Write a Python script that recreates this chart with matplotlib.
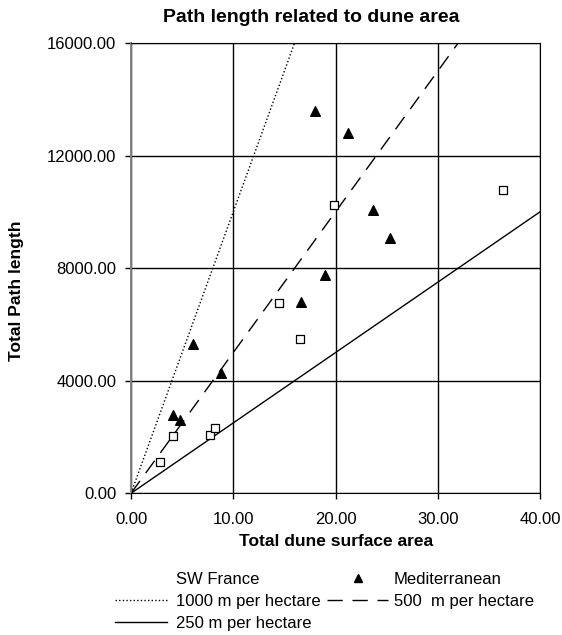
import matplotlib
matplotlib.use('Agg')
import matplotlib.pyplot as plt
from matplotlib.lines import Line2D
import numpy as np

plt.rcParams['font.family'] = ['Liberation Sans', 'DejaVu Sans']

# SW France (open squares)
sw_area = [2.84, 4.08, 7.68, 8.24, 14.5, 16.57, 19.9, 36.37]
sw_path = [1128, 2046, 2081, 2320, 6747, 5498, 10232, 10767]

# Mediterranean (filled triangles)
med_area = [4.15, 4.8, 6.05, 8.79, 16.6, 18.95, 18.04, 21.27, 23.7, 25.3]
med_path = [2795, 2617, 5294, 4284, 6783, 7768, 13588, 12802, 10053, 9079]

# reference lines, metres per hectare
rates = [1000, 500, 250]
rate_labels = ['1000 m per hectare', '500  m per hectare', '250 m per hectare']
rate_styles = [(0, (1, 1.6)), (0, (11, 7)), '-']

xticks = [0, 10, 20, 30, 40]
yticks = [0, 4000, 8000, 12000, 16000]

W, H = 562, 635
fig = plt.figure(figsize=(W / 100, H / 100), dpi=100)
ax = fig.add_axes([131 / W, 1 - 493.3 / H, 409 / W, 450.3 / H])

xs = np.array([0, 40])
lines = []
for r, lab, ls in zip(rates, rate_labels, rate_styles):
    l, = ax.plot(xs, r * xs, color='black', linestyle=ls, linewidth=1.0, label=lab, zorder=2)
    lines.append(l)

ax.scatter(sw_area, sw_path, marker='s', s=32, facecolor='white', edgecolor='black',
           linewidth=0.9, zorder=3)
ax.scatter(med_area, med_path, marker='^', s=48, color='black', zorder=3)

ax.set_xlim(0, 40)
ax.set_ylim(0, 16000)
ax.set_xticks(xticks)
ax.set_yticks(yticks)
ax.set_xticklabels(['%.2f' % v for v in xticks])
ax.set_yticklabels(['%.2f' % v for v in yticks])
ax.tick_params(labelsize=12, length=4, width=1, color='black')
ax.tick_params(axis='x', pad=9.5)
ax.tick_params(axis='y', pad=6.5)
ax.grid(True, color='black', linewidth=1.0)
ax.set_axisbelow(True)
for s in ['top', 'right', 'bottom']:
    ax.spines[s].set_color('black')
ax.spines['left'].set_color('#808080')
ax.spines['left'].set_linewidth(1.3)

fig.text(311.5 / W, 1 - 18 / H, 'Path length related to dune area', fontsize=14,
         fontweight='bold', ha='center', va='center')
fig.text(336 / W, 1 - 541 / H, 'Total dune surface area', fontsize=12.5,
         fontweight='bold', ha='center', va='center')
fig.text(17 / W, 1 - 291 / H, 'Total Path length', fontsize=12.5, fontweight='bold',
         ha='center', va='center', rotation=90)

# legend: two columns with different handle lengths
h_sw = Line2D([], [], linestyle='none', marker=None)
h_med = Line2D([], [], linestyle='none', marker='^', color='black', markersize=6)
leg_kw = dict(loc='upper left', bbox_transform=fig.transFigure, frameon=False, fontsize=12,
              borderpad=0, borderaxespad=0, labelspacing=0.42, numpoints=1)
leg1 = fig.legend([h_sw, lines[0], lines[2]], ['SW France', rate_labels[0], rate_labels[2]],
                  bbox_to_anchor=(115 / W, 1 - 572 / H), handlelength=3.12,
                  handletextpad=0.54, **leg_kw)
leg2 = fig.legend([h_med, lines[1]], ['Mediterranean', rate_labels[1]],
                  bbox_to_anchor=(327 / W, 1 - 572 / H), handlelength=3.66,
                  handletextpad=0.36, **leg_kw)

fig.savefig('out.png', dpi=100)
